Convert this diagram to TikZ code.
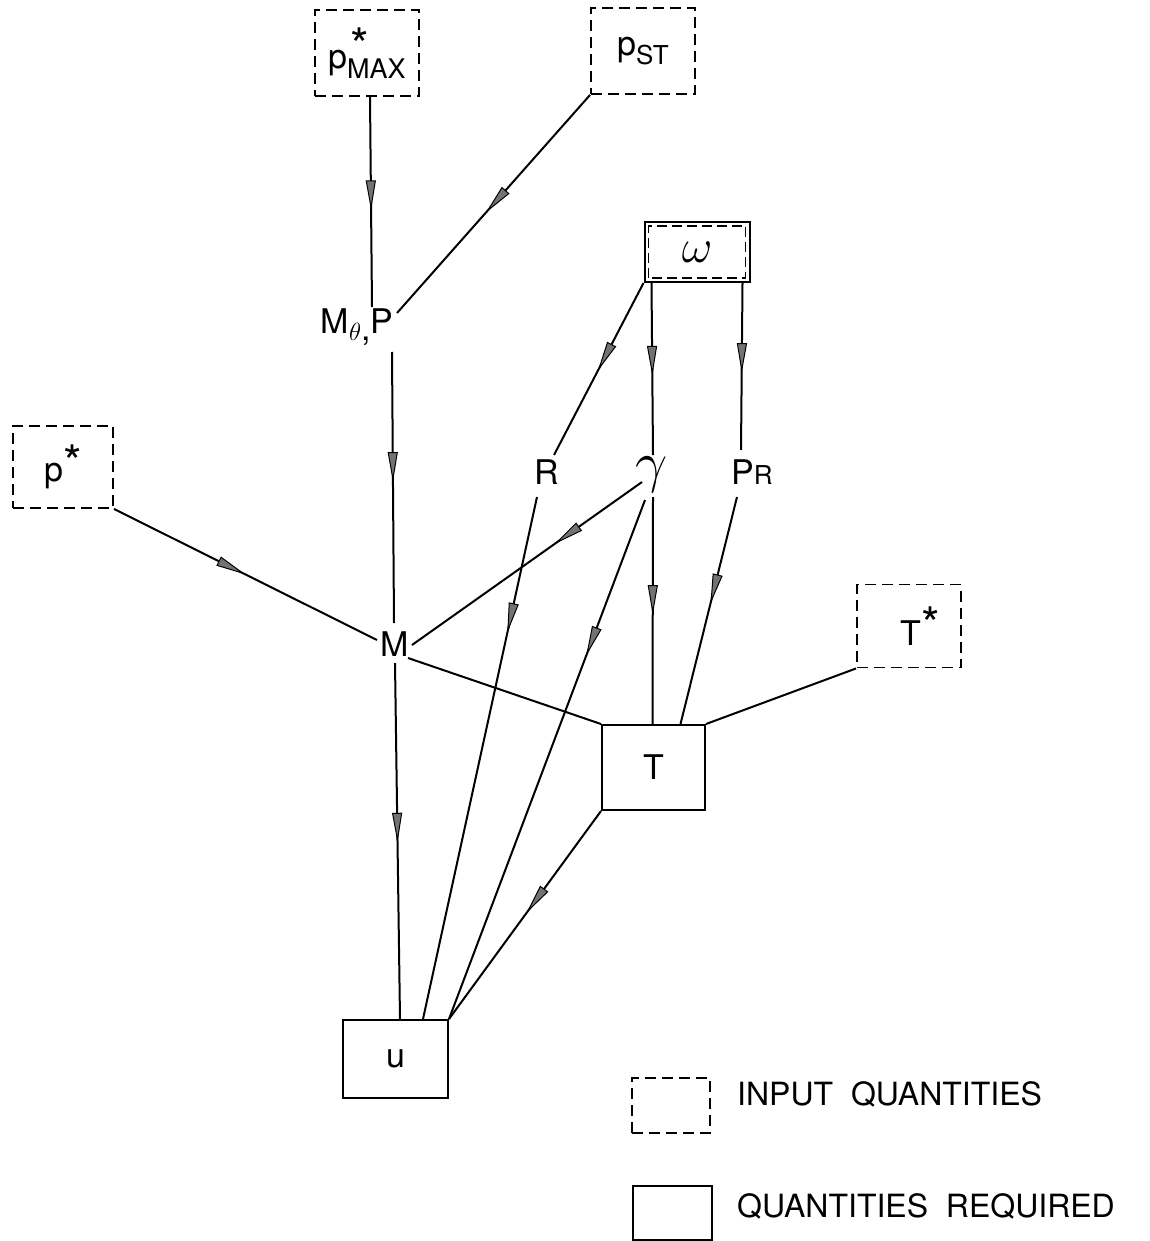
\documentclass[tikz,border=0pt]{standalone}
\usepackage{fontspec}
\setmainfont{TeX Gyre Heros}
\usetikzlibrary{arrows.meta,decorations.markings}
\begin{document}
\begin{tikzpicture}[x=1pt,y=-1pt,
  inbox/.style={draw, line width=1.9pt, dash pattern=on 11pt off 6pt, inner sep=0pt},
  reqbox/.style={draw, line width=2pt, inner sep=0pt},
  lbl/.style={inner sep=0pt, font=\fontsize{34}{34}\selectfont},
  conn/.style={line width=2pt},
  flow/.style={postaction={decorate,decoration={markings,
      mark=at position #1 with {\arrow[line width=1pt]{Triangle[length=30pt,width=10pt,fill=black!55]}}}}},
  legtext/.style={inner sep=0pt, anchor=base west, font=\fontsize{32}{32}\selectfont}]
\useasboundingbox (0,0) rectangle (1150,1241);

% input boxes
\node[inbox, lbl, minimum width=104, minimum height=86] (pmax) at (367,53)
  {p\raisebox{-0.3em}{\shortstack[l]{\hspace{3pt}\scalebox{1.4}{*}\\[-6pt]{\fontsize{27}{27}\selectfont MAX}}}};
\node[inbox, lbl, minimum width=104, minimum height=86] (pst) at (643,51)
  {p\raisebox{-0.25em}{\fontsize{26}{26}\selectfont ST}};
\node[inbox, lbl, minimum width=100, minimum height=82] (pstar) at (63,467)
  {p\raisebox{0.05em}{\scalebox{1.4}{*}}};
\node[inbox, lbl, minimum width=104, minimum height=83] (tstar) at (909,626)
  {\hspace{22pt}T\raisebox{0.1em}{\scalebox{1.4}{*}}};

% omega (input and required)
\node[reqbox, lbl, minimum width=105, minimum height=60] (om) at (697,252)
  {\scalebox{1.9}{$\omega$}};
\draw[line width=1.6pt, dash pattern=on 10pt off 5pt]
  ([xshift=5pt,yshift=5pt]om.south west) rectangle ([xshift=-5pt,yshift=-5pt]om.north east);

% required boxes
\node[reqbox, lbl, minimum width=103, minimum height=85] (T) at (653.5,767.5) {T};
\node[reqbox, lbl, minimum width=105, minimum height=78] (u) at (395.5,1059) {u};

% intermediate labels
\node[lbl] (mtp) at (357,327) {M\raisebox{-0.2em}{$\theta$,}P};
\node[lbl] (M) at (395,644) {M};
\node[lbl] (R) at (547,472) {R};
\node[lbl] (gam) at (652,475) {\scalebox{2.3}{$\gamma$}};
\node[lbl] (PR) at (752,472) {P\fontsize{26}{26}\selectfont R};

% connectors
\draw[conn, flow=0.54] ([xshift=3pt]pmax.south) -- ([shift={(15,-20)}]mtp.center);
\draw[conn, flow=0.54] (pst.south west) -- ([shift={(40,-14)}]mtp.center);
\draw[conn, flow=0.48] ([shift={(35,25)}]mtp.center) -- ([shift={(-1,-21)}]M.center);
\draw[conn, flow=0.50] (pstar.south east) -- ([shift={(-18,-4)}]M.center);
\draw[conn, flow=0.505] ([shift={(0,19)}]M.center) -- ([xshift=4.5pt]u.north);
\draw[conn, flow=0.51] (om.south west) -- ([shift={(7,-17)}]R.center);
\draw[conn, flow=0.54] ([xshift=8pt]om.south west) -- ([shift={(1,-20)}]gam.center);
\draw[conn, flow=0.54] ([xshift=-8pt]om.south east) -- ([shift={(-11,-22)}]PR.center);
\draw[conn, flow=0.38] ([shift={(-10,7)}]gam.center) -- ([shift={(17,1)}]M.center);
\draw[conn, flow=0.26] ([shift={(-10,25)}]R.center) -- ([xshift=-26pt]u.north east);
\draw[conn, flow=0.30] ([shift={(-7,25)}]gam.center) -- (u.north east);
\draw[conn, flow=0.52] ([shift={(1,22)}]gam.center) -- ([xshift=-1pt]T.north);
\draw[conn, flow=0.47] ([shift={(-15,25)}]PR.center) -- ([xshift=27pt]T.north);
\draw[conn] ([shift={(13,14)}]M.center) -- (T.north west);
\draw[conn] (tstar.south west) -- (T.north east);
\draw[conn, flow=0.49] (T.south west) -- (u.north east);

% legend
\node[inbox, minimum width=78, minimum height=55] (legin) at (671,1105.5) {};
\node[legtext] (legintext) at (737,1105) {INPUT\ \ QUANTITIES};
\node[reqbox, minimum width=79, minimum height=54] (legreq) at (672.5,1213) {};
\node[legtext] (legreqtext) at (737,1217) {QUANTITIES\ \ REQUIRED};
\end{tikzpicture}
\end{document}
